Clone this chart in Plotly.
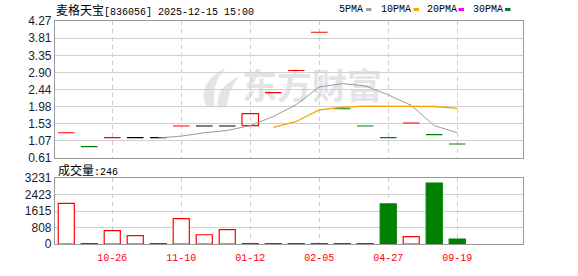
import plotly.graph_objects as go

# ---------------- data ----------------
x_index = list(range(18))
tick_index = [2, 5, 8, 11, 14, 17]
tick_labels = ["10-26", "11-10", "01-12", "02-05", "04-27", "09-19"]

open_price = [1.29, 0.92, 1.16, 1.16, 1.16, 1.47, 1.47, 1.47, 1.48, 2.36,
              2.95, 3.97, 1.93, 1.47, 1.16, 1.55, 1.24, 0.99]
close_price = [1.29, 0.92, 1.16, 1.16, 1.16, 1.47, 1.47, 1.47, 1.80, 2.36,
               2.95, 3.97, 1.93, 1.47, 1.16, 1.55, 1.24, 0.99]
volume = [2000, 25, 655, 407, 25, 1249, 454, 702, 25, 25,
          25, 25, 25, 25, 1967, 360, 2997, 246]
ma5 = [None, None, None, None, 1.15, 1.20, 1.29, 1.35, 1.48, 1.72,
       2.04, 2.51, 2.60, 2.54, 2.30, 2.02, 1.48, 1.29]
ma10 = [None] * 9 + [1.43, 1.59, 1.90, 1.97, 2.00, 2.00, 2.01, 1.99, 1.94]

price_tick_text = ["0.61", "1.07", "1.53", "1.98", "2.44", "2.90", "3.35", "3.81", "4.27"]
vol_tick_text = ["0", "808", "1615", "2423", "3231"]

title_name = "麦格天宝"
title_rest = "[836056] 2025-12-15 15:00"
vol_label = "成交量"
legend_names = ["5PMA", "10PMA", "20PMA", "30PMA"]

# ---------------- style ----------------
RED = "#ff0000"
GREEN = "#008000"
BLACK = "#000000"
MONO = "Liberation Mono, DejaVu Sans Mono, monospace"
CJK = "Noto Sans CJK SC"
W, H = 578, 276
ML, MR, MT, MB = 55, 55, 21, 21
PW, PH = W - ML - MR, H - MT - MB
HALF = 0.36


def px(x):
    return (x - ML) / PW


def py(y):
    return (H - MB - y) / PH


price_dom = [py(165), 1.0]
vol_dom = [0.0, py(186)]

fig = go.Figure()

# candles: dashes for flat days, box otherwise
seg = {RED: ([], []), GREEN: ([], []), BLACK: ([], [])}
for i in x_index:
    o, c = open_price[i], close_price[i]
    prev = close_price[i - 1] if i > 0 else None
    if prev is None or c > prev:
        col = RED
    elif c < prev:
        col = GREEN
    else:
        col = BLACK
    if o == c:
        seg[col][0].extend([i - HALF, i + HALF, None])
        seg[col][1].extend([c, c, None])
    else:
        fig.add_trace(go.Scatter(
            x=[i - HALF, i + HALF, i + HALF, i - HALF, i - HALF],
            y=[o, o, c, c, o], mode="lines",
            line=dict(color=col, width=1.2), hoverinfo="skip",
            xaxis="x", yaxis="y"))

for col, (xs, ys) in seg.items():
    fig.add_trace(go.Scatter(x=xs, y=ys, mode="lines",
                             line=dict(color=col, width=1.2),
                             hoverinfo="skip", xaxis="x", yaxis="y"))

# moving averages
fig.add_trace(go.Scatter(x=x_index, y=ma5, mode="lines",
                         line=dict(color="#9a9a9a", width=1),
                         xaxis="x", yaxis="y"))
fig.add_trace(go.Scatter(x=x_index, y=ma10, mode="lines",
                         line=dict(color="#f5a400", width=1.3),
                         xaxis="x", yaxis="y"))

# volume
vol_fill, vol_line = [], []
for i in x_index:
    prev = close_price[i - 1] if i > 0 else None
    up = prev is None or close_price[i] >= prev
    vol_fill.append("white" if up else GREEN)
    vol_line.append(RED if up else GREEN)
fig.add_trace(go.Bar(x=x_index, y=volume, width=0.7,
                     marker=dict(color=vol_fill, line=dict(color=vol_line, width=1.2)),
                     xaxis="x2", yaxis="y2"))

axis_common = dict(showline=True, linecolor="#9a9a9a", linewidth=1.2, mirror=True,
                   zeroline=False, fixedrange=True)
fig.update_layout(
    width=W, height=H,
    margin=dict(l=ML, r=MR, t=MT, b=MB),
    paper_bgcolor="white", plot_bgcolor="rgba(0,0,0,0)",
    showlegend=False,
    xaxis=dict(domain=[0, 1], range=[-0.49, 19.86], anchor="y",
               tickmode="array", tickvals=tick_index, showticklabels=False,
               showgrid=True, gridcolor="#cccccc", griddash="4px,4px", gridwidth=1,
               ticks="", **axis_common),
    yaxis=dict(domain=price_dom, range=[0.61, 4.27], anchor="x",
               tickmode="array", tickvals=[float(t) for t in price_tick_text],
               ticktext=price_tick_text, showgrid=True, gridcolor="#d0d0d0",
               ticks="", tickfont=dict(family="Liberation Sans, Arial", size=12, color="#1c1c2c"),
               **axis_common),
    xaxis2=dict(domain=[0, 1], range=[-0.49, 19.86], anchor="y2",
                tickmode="array", tickvals=tick_index, ticktext=tick_labels,
                showgrid=True, gridcolor="#cccccc", griddash="4px,4px", gridwidth=1,
                ticks="outside", ticklen=4, tickcolor="rgba(0,0,0,0)",
                tickfont=dict(family=MONO, size=10, color=RED),
                **axis_common),
    yaxis2=dict(domain=vol_dom, range=[0, 3231], anchor="x2",
                tickmode="array", tickvals=[float(t) for t in vol_tick_text],
                ticktext=vol_tick_text, showgrid=True, gridcolor="#d0d0d0",
                ticks="", tickfont=dict(family="Liberation Sans, Arial", size=12, color="#1c1c2c"),
                **axis_common),
)

# watermark (below gridlines and traces)
WM = "#e3e3e8"
fig.add_shape(type="rect", xref="paper", yref="paper",
              x0=px(241), x1=px(383), y0=py(112), y1=py(74),
              line=dict(width=0), fillcolor="rgba(0,0,0,0)", layer="below",
              label=dict(text="<b>东方财富</b>", font=dict(family=CJK, size=35, color=WM),
                         textposition="middle center"))


def logo_path(pts_list):
    parts = []
    for pts in pts_list:
        (x0, y0), rest = pts[0], pts[1:]
        s = f"M {px(x0):.5f} {py(y0):.5f}"
        for k in range(0, len(rest), 2):
            (cx, cy), (ex, ey) = rest[k], rest[k + 1]
            s += f" Q {px(cx):.5f} {py(cy):.5f} {px(ex):.5f} {py(ey):.5f}"
        parts.append(s + " Z")
    return " ".join(parts)


fig.add_shape(type="path", xref="paper", yref="paper", layer="below",
              path=logo_path([
                  [(206, 110), (196, 86), (226, 70), (210, 88), (215, 110)],
                  [(218, 112), (214, 92), (239, 79), (227, 96), (227, 111)],
              ]),
              line=dict(width=0), fillcolor=WM)

annotations = []
annotations.append(dict(
    x=px(55), y=py(9), xref="paper", yref="paper", xanchor="left", yanchor="middle",
    showarrow=False, borderpad=0,
    text=f"<span style='font-family:{CJK};font-size:12px'>{title_name}</span>{title_rest}",
    font=dict(family=MONO, size=10, color="#000")))
annotations.append(dict(
    x=px(57), y=py(177), xref="paper", yref="paper", xanchor="left", yanchor="middle",
    showarrow=False, borderpad=0,
    text=f"<span style='font-family:{CJK};font-size:12px'>{vol_label}</span>:{volume[-1]}",
    font=dict(family=MONO, size=10, color="#000")))

legend_x = [338, 380, 426, 472]
legend_sq = [366, 413.5, 458.5, 505]
legend_col = ["#a0a0a0", "#f5a400", "#ff00ff", "#007a3d"]
for name, lx, sx, col in zip(legend_names, legend_x, legend_sq, legend_col):
    annotations.append(dict(
        x=px(lx), y=py(9), xref="paper", yref="paper", xanchor="left", yanchor="middle",
        showarrow=False, borderpad=0, text=name,
        font=dict(family=MONO, size=10, color="#000")))
    fig.add_shape(type="rect", xref="paper", yref="paper",
                  x0=px(sx), x1=px(sx + 5.5), y0=py(10.5), y1=py(7.3),
                  line=dict(width=0), fillcolor=col)

fig.update_layout(annotations=annotations)

fig.write_html("out.html")
